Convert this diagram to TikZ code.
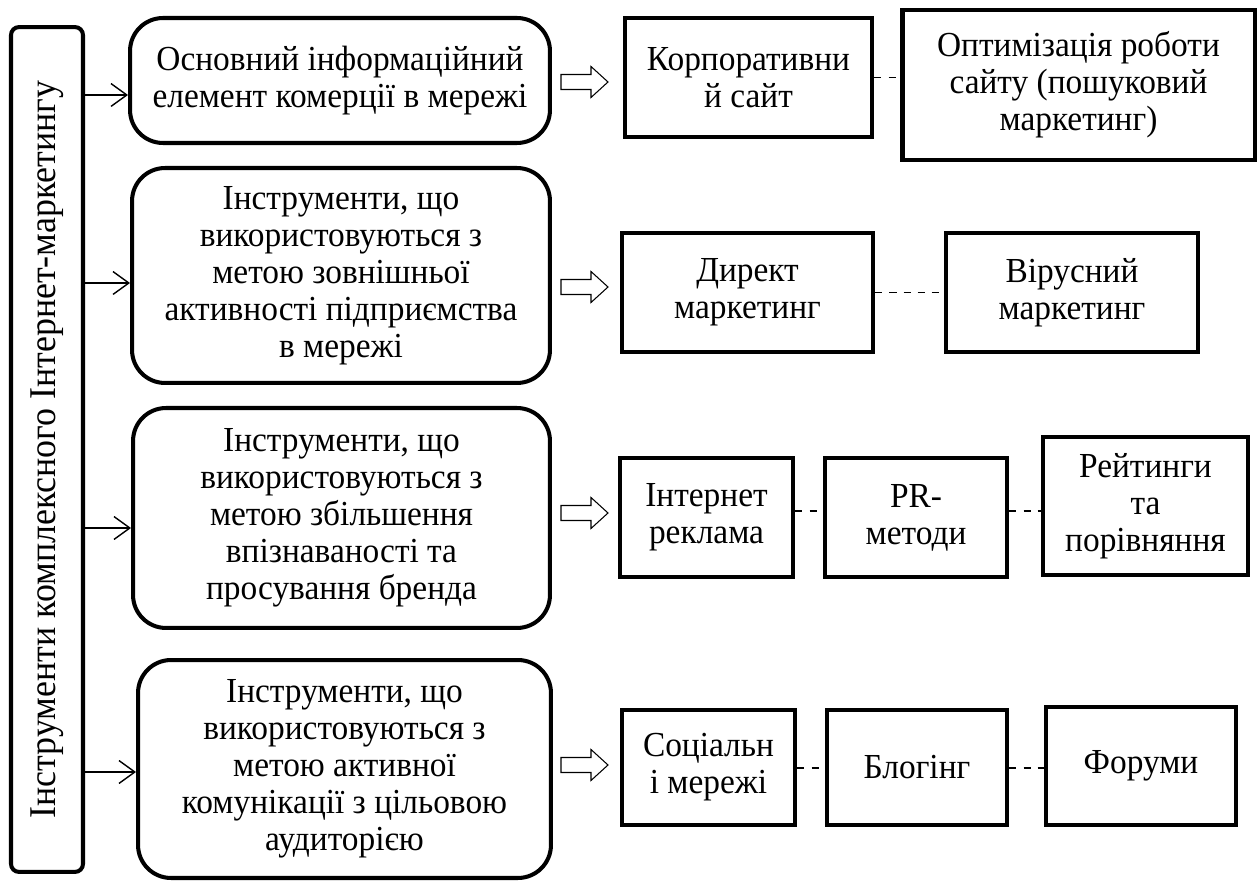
\documentclass[tikz,border=0pt]{standalone}
\usepackage{fontspec}
\setmainfont[FakeStretch=0.95]{Liberation Serif}
\usetikzlibrary{arrows.meta}

\begin{document}
\begin{tikzpicture}[x=0.02cm, y=-0.02cm,
    font=\fontsize{20pt}{21pt}\selectfont,
    lbox/.style={draw, line width=2.3pt, rounded corners=0.16cm, inner sep=0pt},
    rbox/.style={draw, line width=2.3pt, rounded corners=0.66cm, inner sep=0pt, align=center},
    sbox/.style={draw, line width=2.8pt, inner sep=0pt, align=center, minimum height=2.38cm},
    tool/.style={-{Straight Barb[length=9pt,width=13pt]}, line width=0.8pt},
    link/.style={dash pattern=on 4pt off 4pt, line width=1.1pt},
    hollow/.style={draw, line width=0.6pt}]
    \useasboundingbox (0,0) rectangle (1258,881);

    % Left frame
    \node[lbox, minimum width=1.44cm, minimum height=16.9cm] (lb) at (47,449.5) {};
    \node[rotate=90, font=\fontsize{21.5pt}{22pt}\selectfont] (lbl) at (lb.center) {Інструменти комплексного Інтернет-маркетингу};

    % Groups of tools
    \node[rbox, minimum width=8.4cm, minimum height=2.5cm] (b1) at (340,80.5) {Основний інформаційний\\елемент комерції в мережі};
    \node[rbox, minimum width=8.36cm, minimum height=4.3cm] (b2) at (341,275.5) {Інструменти, що\\використовуються з\\метою зовнішньої\\активності підприємства\\в мережі};
    \node[rbox, minimum width=8.34cm, minimum height=4.4cm] (b3) at (341.5,518) {Інструменти, що\\використовуються з\\метою збільшення\\впізнаваності та\\просування бренда};
    \node[rbox, minimum width=8.26cm, minimum height=4.36cm] (b4) at (344.5,769) {Інструменти, що\\використовуються з\\метою активної\\комунікації з цільовою\\аудиторією};

    \draw[tool] (lb.east |- 0,95) -- (b1.west |- 0,95);
    \draw[tool] (lb.east |- 0,283) -- (b2.west |- 0,283);
    \draw[tool] (lb.east |- 0,528) -- (b3.west |- 0,528);
    \draw[tool] (lb.east |- 0,772) -- (b4.west |- 0,772);

    % Hollow arrows
    \foreach \y in {82,287,513,765}
        \draw[hollow] (561,\y-7.5) -- (591,\y-7.5) -- (591,\y-15.5) -- (608,\y)
            -- (591,\y+15.5) -- (591,\y+7.5) -- (561,\y+7.5) -- cycle;

    % Row 1
    \node[sbox, minimum width=4.94cm] (k1) at (748.5,77.5) {Корпоративни\\й сайт};
    \node[sbox, minimum width=7.06cm, minimum height=3cm] (k2) at (1078.5,85) {Оптимізація роботи\\сайту (пошуковий\\маркетинг)};
    \draw[link] (k1.east) -- (k1.east -| k2.west);

    % Row 2
    \node[sbox, minimum width=5.02cm] (d1) at (747.5,292.5) {Директ\\маркетинг};
    \node[sbox, minimum width=5.04cm] (d2) at (1072,292.5) {Вірусний\\маркетинг};
    \draw[link] (d1.east) -- (d1.east -| d2.west);

    % Row 3
    \node[sbox, minimum width=3.46cm] (i1) at (706.5,517.5) {Інтернет\\реклама};
    \node[sbox, minimum width=3.64cm] (i2) at (916,517.5) {PR-\\методи};
    \node[sbox, minimum width=4.1cm, minimum height=2.76cm] (i3) at (1145.5,506) {Рейтинги\\та\\порівняння};
    \draw[link] (i1.east |- 0,511) -- (i2.west |- 0,511);
    \draw[link] (i2.east |- 0,511) -- (i3.west |- 0,511);

    % Row 4
    \node[sbox, minimum width=3.46cm, minimum height=2.3cm] (s1) at (708.5,767.5) {Соціальн\\і мережі};
    \node[sbox, minimum width=3.6cm, minimum height=2.3cm] (s2) at (917,767.5) {Блогінг};
    \node[sbox, minimum width=3.8cm, minimum height=2.36cm] (s3) at (1141,766) {Форуми};
    \draw[link] (s1.east |- 0,768) -- (s2.west |- 0,768);
    \draw[link] (s2.east |- 0,768) -- (s3.west |- 0,768);
\end{tikzpicture}
\end{document}
